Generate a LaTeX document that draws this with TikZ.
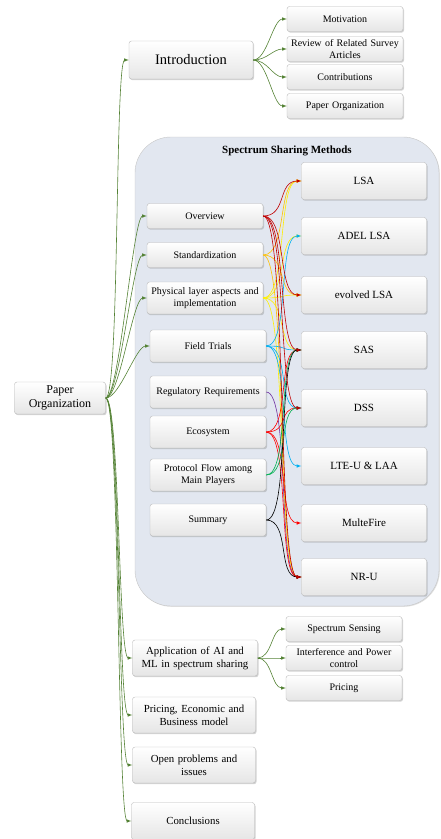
\documentclass[tikz,border=0pt]{standalone}
\usepackage{fontspec}
\setmainfont{Liberation Serif}
\usetikzlibrary{shapes,arrows,shadows}

\definecolor{leaf}{RGB}{84,130,53}
\definecolor{darkred}{RGB}{192,0,0}
\definecolor{amber}{RGB}{255,192,0}
\definecolor{lemon}{RGB}{255,240,0}
\definecolor{sky}{RGB}{0,176,240}
\definecolor{violet}{RGB}{112,48,160}
\definecolor{grass}{RGB}{0,176,80}
\definecolor{panel}{RGB}{226,231,240}

\tikzset{
  box/.style={draw=gray!55, rounded corners=2.5pt, top color=white, bottom color=gray!20,
    drop shadow={shadow xshift=1pt, shadow yshift=-1.2pt, opacity=0.35},
    align=center, inner sep=1pt},
  small/.style={box, minimum width=116pt, minimum height=25pt, text width=113pt,
    font=\fontsize{10}{11.5}\selectfont},
  method/.style={box, minimum width=125pt, minimum height=37pt, font=\fontsize{11}{13}\selectfont},
  chapter/.style={box, minimum width=123pt, minimum height=36pt, text width=121pt,
    font=\fontsize{10.8}{13}\selectfont},
  link/.style={-latex, line width=0.6pt},
  curv/.style={to path={.. controls +(14,0) and +(-14,0) .. (\tikztotarget)}},
  fan/.style={to path={.. controls +(24,0) and +(-24,0) .. (\tikztotarget)}}
}

\begin{document}
\begin{tikzpicture}[x=1pt,y=-1pt]
      \useasboundingbox (0,0) rectangle (440,839);

      % spectrum sharing panel
      \node (panel) [draw=gray!45, fill=panel, rounded corners=36pt, minimum width=304pt,
        minimum height=469pt, drop shadow={shadow xshift=0.8pt, shadow yshift=-0.8pt, opacity=0.25}]
        at (287,371.5) {};
      \node (title) at (287,151) {\fontsize{11}{12}\selectfont\bfseries Spectrum Sharing Methods};

      \node (root) [box, minimum width=91pt, minimum height=32pt, font=\fontsize{12}{13.5}\selectfont]
        at (60,398) {Paper\\Organization};

      \node (intro) [box, minimum width=124pt, minimum height=38pt, font=\fontsize{14.5}{16}\selectfont]
        at (191,60) {Introduction};
      \node (motiv) [small] at (345,19) {Motivation};
      \node (review) [small] at (345,49) {Review of Related Survey\\Articles};
      \node (contrib) [small] at (345,77) {Contributions};
      \node (porg) [small] at (345,106) {Paper Organization};

      % left column of the panel
      \node (ov) [small] at (205,216) {Overview};
      \node (std) [small] at (205,255) {Standardization};
      \node (phy) [small, minimum height=32pt] at (205,298) {Physical layer aspects and\\implementation};
      \node (ft) [small, minimum height=32pt] at (208,346) {Field Trials};
      \node (reg) [small, minimum height=32pt] at (208,392) {Regulatory Requirements};
      \node (eco) [small, minimum height=32pt] at (208,432) {Ecosystem};
      \node (proto) [small, minimum height=32pt] at (208,475) {Protocol Flow among\\Main Players};
      \node (summ) [small, minimum height=32pt] at (208,520) {Summary};

      % right column of the panel
      \node (lsa) [method] at (364,181) {LSA};
      \node (adel) [method] at (364,236) {ADEL LSA};
      \node (elsa) [method] at (364,295) {evolved LSA};
      \node (sas) [method] at (364,350) {SAS};
      \node (dss) [method] at (364,408) {DSS};
      \node (lte) [method] at (364,466) {LTE-U \& LAA};
      \node (mf) [method] at (364,523) {MulteFire};
      \node (nru) [method] at (364,577) {NR-U};

      \node (ai) [chapter, minimum width=125pt, text width=123pt] at (195,658) {Application of AI and\\ML in spectrum sharing};
      \node (sense) [small] at (344,629) {Spectrum Sensing};
      \node (intf) [small] at (344,658) {Interference and Power\\control};
      \node (price) [small] at (344,688) {Pricing};
      \node (econ) [chapter] at (194,715) {Pricing, Economic and\\Business model};
      \node (open) [chapter] at (194,765) {Open problems and\\issues};
      \node (concl) [chapter, minimum height=37pt] at (193,821) {Conclusions};

      % tree links
      \draw[link, leaf] (root.east) to[curv] (intro.west);
      \draw[link, leaf] (root.east) to[curv] (ov.west);
      \draw[link, leaf] (root.east) to[curv] (std.west);
      \draw[link, leaf] (root.east) to[curv] (phy.west);
      \draw[link, leaf] (root.east) to[curv] (ft.west);
      \draw[link, leaf] (root.east) to[curv] (ai.west);
      \draw[link, leaf] (root.east) to[curv] (econ.west);
      \draw[link, leaf] (root.east) to[curv] (open.west);
      \draw[link, leaf] (root.east) to[curv] (concl.west);

      \draw[link, leaf] (intro.east) to[curv] (motiv.west);
      \draw[link, leaf] (intro.east) to[curv] (review.west);
      \draw[link, leaf] (intro.east) to[curv] (contrib.west);
      \draw[link, leaf] (intro.east) to[curv] (porg.west);

      \draw[link, leaf] (ai.east) to[curv] (sense.west);
      \draw[link, leaf] (ai.east) to[curv] (intf.west);
      \draw[link, leaf] (ai.east) to[curv] (price.west);

      % topic -> method links
      \draw[link, lemon] (phy.east) to[fan] (lsa.west);
      \draw[link, lemon] (phy.east) to[fan] (adel.west);
      \draw[link, lemon] (phy.east) to[fan] (elsa.west);
      \draw[link, lemon] (phy.east) to[fan] (sas.west);
      \draw[link, lemon] (phy.east) to[fan] (nru.west);
      \draw[link, amber] (std.east) to[fan] (lsa.west);
      \draw[link, amber] (std.east) to[fan] (elsa.west);
      \draw[link, amber] (std.east) to[fan] (nru.west);
      \draw[link, sky] (ft.east) to[fan] (adel.west);
      \draw[link, sky] (ft.east) to[fan] (sas.west);
      \draw[link, sky] (ft.east) to[fan] (dss.west);
      \draw[link, sky] (ft.east) to[fan] (lte.west);
      \draw[link, violet] (reg.east) to[fan] (nru.west);
      \draw[link, red] (eco.east) to[fan] (sas.west);
      \draw[link, red] (eco.east) to[fan] (dss.west);
      \draw[link, red] (eco.east) to[fan] (mf.west);
      \draw[link, red] (eco.east) to[fan] (nru.west);
      \draw[link, grass] (proto.east) to[fan] (sas.west);
      \draw[link, grass] (proto.east) to[fan] (dss.west);
      \draw[link] (summ.east) to[fan] (sas.west);
      \draw[link] (summ.east) to[fan] (nru.west);
      \draw[link, darkred] (ov.east) to[fan] (lsa.west);
      \draw[link, darkred] (ov.east) to[fan] (elsa.west);
      \draw[link, darkred] (ov.east) to[fan] (sas.west);
      \draw[link, darkred] (ov.east) to[fan] (dss.west);
      \draw[link, darkred] (ov.east) to[fan] (nru.west);
    \end{tikzpicture}
\end{document}
